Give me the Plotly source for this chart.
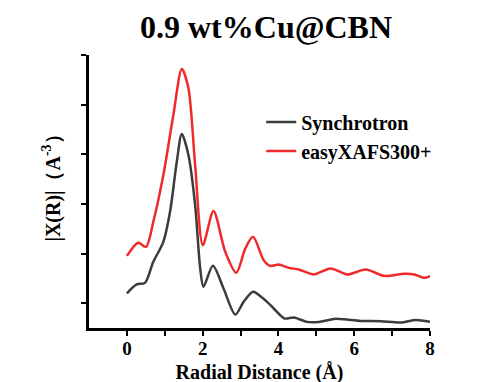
import plotly.graph_objects as go

# Synchrotron curve
sync_x = [0.0, 0.257, 0.477, 0.697, 0.962, 1.139, 1.317, 1.449, 1.624, 1.801, 1.934, 2.021,
          2.270, 2.551, 2.861, 3.081, 3.330, 3.523, 3.701, 3.875, 4.159, 4.405, 4.760, 5.068,
          5.465, 5.730, 6.172, 6.702, 7.232, 7.629, 8.0]
sync_y = [0.196, 0.377, 0.409, 0.833, 1.236, 1.841, 2.849, 3.407, 2.984, 1.976, 0.706, 0.329,
          0.752, 0.296, -0.228, 0.026, 0.228, 0.141, 0.026, -0.107, -0.308, -0.288, -0.377, -0.377,
          -0.317, -0.323, -0.357, -0.363, -0.389, -0.337, -0.377]

# easyXAFS300+ curve
easy_x = [0.0, 0.299, 0.503, 0.697, 0.962, 1.226, 1.449, 1.624, 1.801, 2.005, 2.286, 2.596,
          2.887, 3.126, 3.330, 3.611, 3.788, 4.008, 4.273, 4.538, 4.935, 5.377, 5.820, 6.305,
          6.790, 7.320, 7.584, 7.849, 8.0]
easy_y = [0.954, 1.216, 1.135, 1.639, 2.581, 3.790, 4.718, 4.329, 2.782, 1.169, 1.855, 1.034,
          0.611, 1.103, 1.337, 0.867, 0.752, 0.780, 0.712, 0.679, 0.579, 0.700, 0.579, 0.679,
          0.550, 0.591, 0.579, 0.510, 0.544]

x_tickvals = [0, 2, 4, 6, 8]
x_ticktext = ["0", "2", "4", "6", "8"]
x_minor_tickvals = [1, 3, 5, 7]
y_tickvals = [0, 1, 2, 3, 4, 5]

serif = "Liberation Serif, Times New Roman, serif"

fig = go.Figure()
fig.add_trace(go.Scatter(x=sync_x, y=sync_y, mode="lines", name="Synchrotron",
                         line=dict(color="#3c3c3c", width=2.5, shape="spline", smoothing=0.8)))
fig.add_trace(go.Scatter(x=easy_x, y=easy_y, mode="lines", name="easyXAFS300+",
                         line=dict(color="#f02a2a", width=2.5, shape="spline", smoothing=0.8)))

fig.add_annotation(text="|X(R)|（A<sup>-3</sup>）", textangle=-90,
                   xref="paper", yref="paper", x=-0.11, y=0.531,
                   xanchor="center", yanchor="middle", showarrow=False,
                   font=dict(family=serif, size=20, color="black", weight="bold"))

fig.update_layout(
    width=500, height=382,
    margin=dict(l=81, r=78, t=47, b=62, autoexpand=False),
    plot_bgcolor="white", paper_bgcolor="white",
    title=dict(text="0.9 wt%Cu@CBN", x=258 / 500, xref="container", xanchor="center",
               y=1 - 19 / 382, yref="container", yanchor="middle",
               font=dict(family=serif, size=32, color="black", weight="bold")),
    legend=dict(x=0.505, y=0.826, xanchor="left", yanchor="top", bgcolor="rgba(0,0,0,0)",
                font=dict(family=serif, size=20, color="black", weight="bold"),
                tracegroupgap=0),
    xaxis=dict(range=[-1, 8], tickvals=x_tickvals, ticktext=x_ticktext,
               ticks="outside", ticklen=5, tickwidth=2, tickcolor="black",
               minor=dict(ticks="outside", ticklen=5, tickwidth=2, tickcolor="black",
                          tickvals=x_minor_tickvals),
               showline=True, linecolor="black", linewidth=3, showgrid=False, zeroline=False,
               automargin=False, ticklabelstandoff=-4,
               tickfont=dict(family=serif, size=19, color="black", weight="bold"),
               title=dict(text="Radial Distance (Å)", standoff=8,
                          font=dict(family=serif, size=20, color="black", weight="bold"))),
    yaxis=dict(range=[-0.5, 5.0], tickvals=y_tickvals, showticklabels=False,
               ticks="outside", ticklen=5, tickwidth=2, tickcolor="black",
               showline=True, linecolor="black", linewidth=3, showgrid=False, zeroline=False,
               automargin=False),
)

fig.write_html("out.html")
